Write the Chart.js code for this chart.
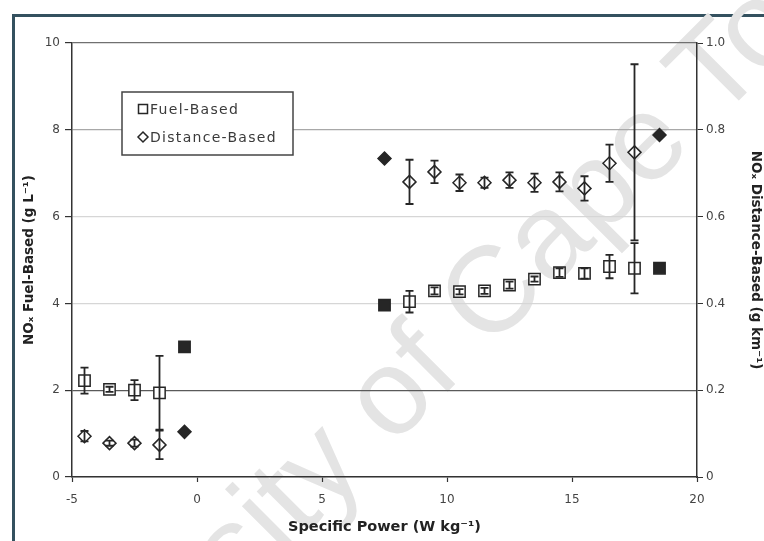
<!DOCTYPE html>
<html>
<head>
<meta charset="utf-8">
<script src="https://cdn.jsdelivr.net/npm/chart.js@4.4.1/dist/chart.umd.min.js"></script>
<style>
  html, body { margin: 0; padding: 0; background: #fff; }
  #wrap { position: relative; width: 764px; height: 541px; overflow: hidden; background: #fff; }
  #frame { position: absolute; left: 12px; top: 14px; width: 800px; height: 600px;
           border-top: 3px solid #34515f; border-left: 3px solid #34515f; }
  #mark { position: absolute; left: 424px; top: 356px; white-space: nowrap;
          transform: translate(-50%, -50%) rotate(-45deg);
          font: 122px "Liberation Sans", Arial, sans-serif; color: #e4e4e4; }
  canvas { position: absolute; left: 0; top: 0; }
</style>
</head>
<body>
<div id="wrap">
  <div id="frame"></div>
  <div id="mark">University of Cape Town</div>
  <canvas id="c" width="764" height="541"></canvas>
</div>
<script>
// Specific power bin centres (W/kg)
const powerBins = [-4.5, -3.5, -2.5, -1.5, -0.5, 7.5, 8.5, 9.5, 10.5, 11.5, 12.5, 13.5, 14.5, 15.5, 16.5, 17.5, 18.5];

// Fuel-based NOx emission factor (g/L) and its uncertainty (null = single measurement)
const fuelBased = [2.22, 2.02, 2.00, 1.94, 3.00, 3.96, 4.04, 4.29, 4.27, 4.29, 4.42, 4.56, 4.71, 4.69, 4.85, 4.81, 4.81];
const fuelErr   = [0.30, 0.06, 0.23, 0.85, null, null, 0.25, 0.08, 0.06, 0.07, 0.08, 0.06, 0.10, 0.12, 0.27, 0.58, null];

// Distance-based NOx emission factor (g/km) and its uncertainty
const distBased = [0.094, 0.078, 0.078, 0.074, 0.104, 0.734, 0.680, 0.703, 0.678, 0.678, 0.684, 0.678, 0.680, 0.665, 0.723, 0.748, 0.788];
const distErr   = [0.012, 0.006, 0.008, 0.033, null, null, 0.051, 0.026, 0.019, 0.012, 0.018, 0.021, 0.022, 0.028, 0.043, 0.203, null];

// Axis ticks
const xTicks = [-5, 0, 5, 10, 15, 20];
const fuelTicks = [0, 2, 4, 6, 8, 10];
const distTicks = [0, 0.2, 0.4, 0.6, 0.8, 1.0];

const INK = '#262626';
const TICK_FONT = { family: 'DejaVu Sans', size: 12 };
const TITLE_FONT = { family: 'DejaVu Sans', size: 13.5, weight: 'bold' };

const toPoints = (ys) => powerBins.map((x, i) => ({ x, y: ys[i] }));
const fills = (errs) => errs.map(e => (e == null ? INK : '#ffffff'));

// Vertical error bars with short caps, drawn on top of the markers
const errorBars = {
  id: 'errorBars',
  afterDatasetsDraw(chart) {
    const ctx = chart.ctx;
    ctx.save();
    ctx.strokeStyle = INK;
    ctx.lineWidth = 1.8;
    chart.data.datasets.forEach((ds, i) => {
      const meta = chart.getDatasetMeta(i);
      const scale = chart.scales[ds.yAxisID];
      ds.errors.forEach((e, j) => {
        if (e == null) return;
        const x = meta.data[j].x;
        const v = ds.data[j].y;
        const top = scale.getPixelForValue(v + e);
        const bot = scale.getPixelForValue(v - e);
        ctx.beginPath();
        ctx.moveTo(x, top); ctx.lineTo(x, bot);
        ctx.moveTo(x - 4, top); ctx.lineTo(x + 4, top);
        ctx.moveTo(x - 4, bot); ctx.lineTo(x + 4, bot);
        ctx.stroke();
      });
    });
    ctx.restore();
  }
};

// Boxed legend inside the plot area
const boxLegend = {
  id: 'boxLegend',
  afterDraw(chart) {
    const ctx = chart.ctx;
    const a = chart.chartArea;
    const bx = a.left + 50, by = a.top + 49, bw = 171, bh = 63;
    ctx.save();
    ctx.fillStyle = '#ffffff';
    ctx.fillRect(bx, by, bw, bh);
    ctx.strokeStyle = '#444';
    ctx.lineWidth = 1.5;
    ctx.strokeRect(bx, by, bw, bh);
    ctx.font = '14px "DejaVu Sans"';
    ctx.letterSpacing = '1.3px';
    ctx.textBaseline = 'middle';
    ctx.fillStyle = '#3a3a3a';
    chart.data.datasets.forEach((ds, i) => {
      const cy = by + 17 + i * 28;
      const mx = bx + 21;
      ctx.strokeStyle = INK;
      ctx.lineWidth = 1.5;
      ctx.beginPath();
      if (ds.pointStyle === 'rect') {
        ctx.rect(mx - 4.5, cy - 4.5, 9, 9);
      } else {
        ctx.moveTo(mx, cy - 5); ctx.lineTo(mx + 5, cy); ctx.lineTo(mx, cy + 5); ctx.lineTo(mx - 5, cy); ctx.closePath();
      }
      ctx.stroke();
      ctx.fillText(ds.label, mx + 7, cy + 1);
    });
    ctx.restore();
  }
};

const gridColour = (c) => {
  const v = c.tick && c.tick.value;
  if (v === 2) return '#5a5a5a';
  if (v === 8) return '#a8a8a8';
  if (v === 10) return '#707070';
  return '#d6d6d6';
};

new Chart(document.getElementById('c'), {
  type: 'scatter',
  data: {
    datasets: [
      {
        label: 'Fuel-Based',
        data: toPoints(fuelBased),
        errors: fuelErr,
        yAxisID: 'y',
        pointStyle: 'rect',
        pointRadius: 8,
        pointBorderWidth: 1.5,
        borderColor: INK,
        pointBackgroundColor: fills(fuelErr),
        backgroundColor: '#fff'
      },
      {
        label: 'Distance-Based',
        data: toPoints(distBased),
        errors: distErr,
        yAxisID: 'y2',
        pointStyle: 'rectRot',
        pointRadius: 6.5,
        pointBorderWidth: 1.5,
        borderColor: INK,
        pointBackgroundColor: fills(distErr),
        backgroundColor: '#fff'
      }
    ]
  },
  options: {
    responsive: false,
    animation: false,
    events: [],
    layout: { padding: { top: 43, left: 0, right: 0, bottom: 0 } },
    plugins: { legend: { display: false }, tooltip: { enabled: false } },
    scales: {
      x: {
        type: 'linear',
        min: xTicks[0], max: xTicks[xTicks.length - 1],
        afterBuildTicks: (s) => { s.ticks = xTicks.map(v => ({ value: v })); },
        afterFit: (s) => { s.height = 64; },
        grid: { drawOnChartArea: false, tickLength: 5, tickColor: '#333', tickWidth: 1.2 },
        border: { color: '#333', width: 1.5 },
        ticks: { padding: 11, color: '#444', font: TICK_FONT },
        title: { display: true, text: 'Specific Power (W kg⁻¹)', color: '#222',
                 font: { family: 'DejaVu Sans', size: 14.5, weight: 'bold' }, padding: { top: 0, bottom: 5 } }
      },
      y: {
        position: 'left',
        min: 0, max: 10,
        afterBuildTicks: (s) => { s.ticks = fuelTicks.map(v => ({ value: v })); },
        afterFit: (s) => { s.width = 72; },
        grid: { color: gridColour, lineWidth: 1.2, tickLength: 7, tickColor: '#333' },
        border: { color: '#333', width: 1.5 },
        ticks: { padding: 5, color: '#444', font: TICK_FONT },
        title: { display: true, text: 'NOₓ Fuel-Based (g L⁻¹)', color: '#222', font: TITLE_FONT,
                 padding: { top: 21, bottom: 0 } }
      },
      y2: {
        position: 'right',
        min: 0, max: 1,
        afterBuildTicks: (s) => { s.ticks = distTicks.map(v => ({ value: v })); },
        afterFit: (s) => { s.width = 67; },
        grid: { drawOnChartArea: false, tickLength: 6, tickColor: '#333' },
        border: { color: '#333', width: 1.5 },
        ticks: { padding: 3, color: '#444', font: TICK_FONT,
                 callback: (v) => (v === 0 ? '0' : v.toFixed(1)) },
        title: { display: true, text: 'NOₓ Distance-Based (g km⁻¹)', color: '#222', font: TITLE_FONT,
                 padding: { top: 0, bottom: 0 } }
      }
    }
  },
  plugins: [errorBars, boxLegend]
});
</script>
</body>
</html>
